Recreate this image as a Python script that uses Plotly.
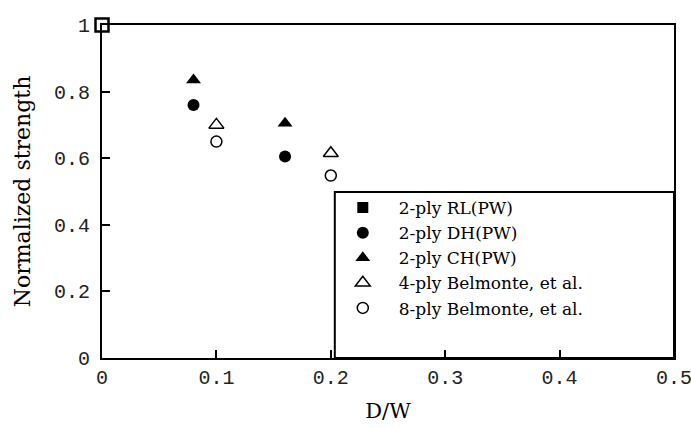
import plotly.graph_objects as go

# Data
rl_x = [0.0]
rl_y = [1.0]
dh_x = [0.08, 0.16]
dh_y = [0.76, 0.605]
ch_x = [0.08, 0.16]
ch_y = [0.835, 0.705]
b4_x = [0.10, 0.20]
b4_y = [0.70, 0.615]
b8_x = [0.10, 0.20]
b8_y = [0.65, 0.548]
x_ticks = [0, 0.1, 0.2, 0.3, 0.4, 0.5]
x_tick_text = ["0", "0.1", "0.2", "0.3", "0.4", "0.5"]
y_ticks = [0, 0.2, 0.4, 0.6, 0.8, 1.0]
y_tick_text = ["0", "0.2", "0.4", "0.6", "0.8", "1"]

serif = "DejaVu Serif, serif"
mono = "Liberation Mono, monospace"

fig = go.Figure()
# RL point drawn hollow on the corner (as in reference), legend entry filled
fig.add_trace(go.Scatter(x=rl_x, y=rl_y, mode="markers", showlegend=False,
                         marker=dict(symbol="square", size=13, color="white",
                                     line=dict(color="black", width=2.5)),
                         cliponaxis=False))
fig.add_trace(go.Scatter(x=[None], y=[None], mode="markers", name="2-ply RL(PW)",
                         marker=dict(symbol="square", size=11, color="black")))
fig.add_trace(go.Scatter(x=dh_x, y=dh_y, mode="markers", name="2-ply DH(PW)",
                         marker=dict(symbol="circle", size=12, color="black")))
fig.add_trace(go.Scatter(x=ch_x, y=ch_y, mode="markers", name="2-ply CH(PW)",
                         marker=dict(symbol="triangle-up", size=13, color="black")))
fig.add_trace(go.Scatter(x=b4_x, y=b4_y, mode="markers", name="4-ply Belmonte, et al.",
                         marker=dict(symbol="triangle-up", size=13, color="white",
                                     line=dict(color="black", width=1.5))))
fig.add_trace(go.Scatter(x=b8_x, y=b8_y, mode="markers", name="8-ply Belmonte, et al.",
                         marker=dict(symbol="circle", size=11, color="white",
                                     line=dict(color="black", width=1.5))))

leg_x0 = 0.407
leg_y1 = 0.4985

fig.update_layout(
    width=691, height=428,
    margin=dict(l=102, r=17, t=25, b=70),
    paper_bgcolor="white", plot_bgcolor="white",
    showlegend=True,
    legend=dict(x=leg_x0 - 0.014, y=leg_y1 + 0.006, xanchor="left", yanchor="top",
                bgcolor="rgba(0,0,0,0)", borderwidth=0,
                font=dict(family=serif, size=17, color="black"),
                itemwidth=62, tracegroupgap=0),
    shapes=[dict(type="rect", xref="paper", yref="paper", x0=leg_x0, x1=1, y0=0, y1=leg_y1,
                 line=dict(color="black", width=2), fillcolor="white", layer="below")],
    xaxis=dict(range=[0, 0.5], tickvals=x_ticks, ticktext=x_tick_text,
               ticks="inside", ticklen=8, tickwidth=1.5, tickcolor="black",
               showline=True, linecolor="black", linewidth=2, mirror=True,
               showgrid=False, zeroline=False, automargin=False,
               ticklabeloverflow="allow",
               tickfont=dict(family=mono, size=20, color="#222"),
               title=dict(text="D/W", font=dict(family=serif, size=21, color="black"), standoff=14)),
    yaxis=dict(range=[0, 1.0], tickvals=y_ticks, ticktext=y_tick_text,
               ticks="inside", ticklen=8, tickwidth=1.5, tickcolor="black",
               showline=True, linecolor="black", linewidth=2, mirror=True,
               showgrid=False, zeroline=False, automargin=False,
               ticklabelstandoff=6,
               tickfont=dict(family=mono, size=20, color="#222"),
               title=dict(text="Normalized strength", font=dict(family=serif, size=22, color="black"), standoff=17)),
)

fig.write_html("out.html")
